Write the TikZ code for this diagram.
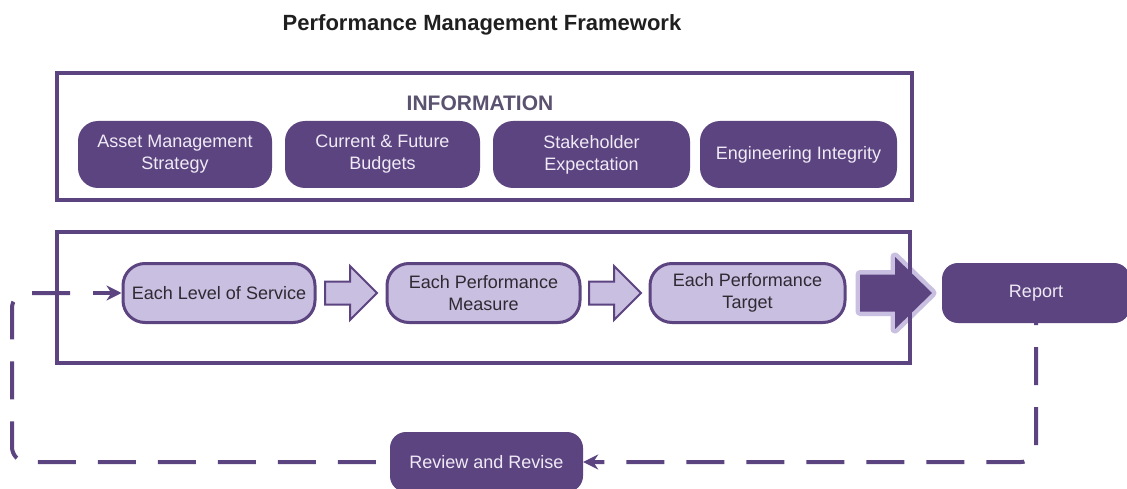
\documentclass[tikz,border=0pt]{standalone}
\usepackage{fontspec}
\setmainfont{Liberation Sans}
\usetikzlibrary{arrows.meta,calc}
\definecolor{pdark}{HTML}{5C4481}
\definecolor{plight}{HTML}{C9BFE0}
\definecolor{ptext}{HTML}{EFEAF5}
\definecolor{infotext}{HTML}{5B5270}
\definecolor{darktext}{HTML}{2E2A33}
\begin{document}
\begin{tikzpicture}[x=1pt,y=-1pt,
  frame/.style={draw=pdark, line width=3.5pt, inner sep=0pt},
  infobox/.style={fill=pdark, rounded corners=20pt, minimum width=195pt, minimum height=67pt, inner sep=2pt, align=center, text=ptext, font=\fontsize{18}{22}\selectfont},
  stepbox/.style={fill=plight, draw=pdark, line width=3pt, rounded corners=22pt, minimum width=192pt, minimum height=59pt, align=center, text=darktext, font=\fontsize{18}{22}\selectfont, inner sep=2pt},
  darkbox/.style={fill=pdark, rounded corners=16pt, minimum height=60pt, text=ptext, font=\fontsize{18}{22}\selectfont},
  hollowshape/.style={draw=pdark, line width=2pt, fill=plight, line join=miter},
  bigshape/.style={fill=pdark, preaction={draw=plight, line width=9pt, line join=round}},
  dashline/.style={draw=pdark, line width=4pt, dash pattern=on 38pt off 22pt},
  tipline/.style={draw=pdark, line width=4pt, -{Stealth[length=15pt,width=15pt]}},
  hollowarrow/.pic={\path[hollowshape] (-26,-11.5) -- (-1,-11.5) -- (-1,-27) -- (26,0) -- (-1,27) -- (-1,11.5) -- (-26,11.5) -- cycle;},
  bigarrow/.pic={\path[bigshape] (-36,-18.5) -- (-1,-18.5) -- (-1,-36) -- (36,0) -- (-1,36) -- (-1,18.5) -- (-36,18.5) -- cycle;},
]
\useasboundingbox (0,0) rectangle (1127,489);
\fill[white] (0,0) rectangle (1127,489);
\clip (0,0) rectangle (1127,489);

\node[font=\bfseries\fontsize{22}{26}\selectfont, text=black!88] (title) at (482,25) {Performance Management Framework};

\node[frame, minimum width=855pt, minimum height=127pt] (infoframe) at (484.5,136.5) {};
\node[font=\bfseries\fontsize{21}{25}\selectfont, text=infotext] (infolabel) at (480,103) {INFORMATION};
\node[infobox, minimum width=194pt] (i1) at (175,154.5) {Asset Management\\Strategy};
\node[infobox] (i2) at (382.5,154.5) {Current \& Future\\Budgets};
\node[infobox, minimum width=197pt] (i3) at (591.5,154.5) {Stakeholder\\Expectation};
\node[infobox, minimum width=197pt] (i4) at (798.5,154.5) {Engineering Integrity};

\node[stepbox] (l1) at (219,293) {Each Level of Service};
\node[stepbox, minimum width=193pt] (l2) at (483.5,293) {Each Performance\\Measure};
\node[stepbox, minimum width=195pt] (l3) at (747.5,293) {Each Performance\\Target};
\node[darkbox, minimum width=188pt] (report) at (1036,293) {Report};
\coordinate (a1) at ($(l1.east)!0.5!(l2.west)$);
\coordinate (a2) at ($(l2.east)!0.5!(l3.west)$);
\coordinate (a3) at (896,293);
\pic at (a1) {hollowarrow};
\pic at (a2) {hollowarrow};
\pic at (a3) {bigarrow};

\node[frame, minimum width=853pt, minimum height=131pt] (flowframe) at (483.5,297.5) {};

\node[darkbox, minimum width=193pt] (review) at (486.5,462) {Review and Revise};

\coordinate (lt) at (70,293);
\coordinate (lc) at (12,293);
\coordinate (at) at (93,293);
\draw[dashline, rounded corners=15pt] (lt) -- (lc) |- (review.west);
\draw[tipline] (at) -- (l1.west);
\draw[dashline, rounded corners=15pt, dash phase=26pt, {Stealth[length=15pt,width=15pt]}-] (review.east) -| (report.south);
\end{tikzpicture}
\end{document}
